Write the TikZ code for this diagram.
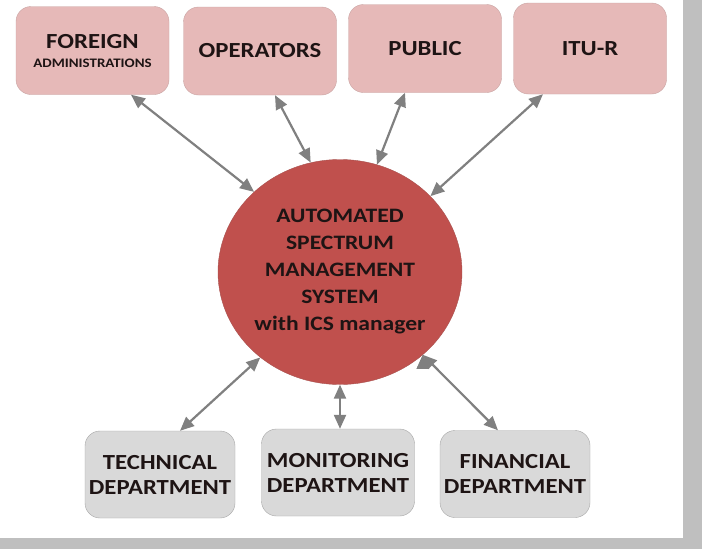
\documentclass[tikz,border=0pt]{standalone}
\usepackage{fontspec}
\setmainfont{Carlito}[FakeStretch=1.15]
\usetikzlibrary{arrows.meta,shapes.geometric}
\definecolor{outerbox}{HTML}{E6B9B8}
\definecolor{outerline}{HTML}{C9A3A2}
\definecolor{asmsred}{HTML}{C0504D}
\definecolor{asmsline}{HTML}{A8514E}
\definecolor{deptbox}{HTML}{D9D9D9}
\definecolor{deptline}{HTML}{A6A6A6}
\definecolor{linkgray}{HTML}{808080}
\definecolor{framegray}{HTML}{BFBFBF}
\definecolor{inkdark}{HTML}{1E1414}

\begin{document}
\begin{tikzpicture}[x=1pt,y=-1pt,
	outer/.style={draw=outerline, fill=outerbox, rounded corners=15pt, minimum width=153pt, minimum height=88pt, inner sep=0pt, align=center, text=inkdark, font=\bfseries\fontsize{21.5}{22}\selectfont},
	dept/.style={draw=deptline, fill=deptbox, rounded corners=15pt, minimum width=150pt, minimum height=87pt, inner sep=0pt, align=center, text=inkdark, font=\bfseries\fontsize{21.5}{25}\selectfont},
	asms/.style={ellipse, draw=asmsline, fill=asmsred, minimum width=244pt, minimum height=225pt, inner sep=0pt, align=center, text=inkdark, font=\bfseries\fontsize{20.5}{27}\selectfont},
	link/.style={draw=linkgray, fill=linkgray, line width=2.2pt, {Triangle[length=14pt,width=12pt]}-{Triangle[length=14pt,width=12pt]}}]
	\fill[framegray] (0,0) rectangle (702,549);
	\fill[white] (0,0) rectangle (683,538);
	\useasboundingbox (0,0) rectangle (702,549);

	\node[outer] (foreign) at (92.5,50.5) {FOREIGN\\[-3pt]{\fontsize{13}{15}\selectfont ADMINISTRATIONS}};
	\node[outer] (operators) at (260,51) {OPERATORS};
	\node[outer] (public) at (425,48.5) {PUBLIC};
	\node[outer, minimum height=91pt] (itur) at (590,48.5) {ITU-R};

	\node[asms] (sys) at (340,272) {AUTOMATED\\SPECTRUM\\MANAGEMENT\\SYSTEM\\with ICS manager};

	\node[dept] (technical) at (160,474.5) {TECHNICAL\\DEPARTMENT};
	\node[dept, minimum width=153pt] (monitoring) at (338,472.5) {MONITORING\\DEPARTMENT};
	\node[dept] (financial) at (515,474) {FINANCIAL\\DEPARTMENT};

	\path[link]
	(sys.137) edge ([xshift=38.5pt]foreign.south)
	(sys.105) edge ([xshift=15pt]operators.south)
	(sys.71) edge ([xshift=-20pt]public.south)
	(sys.40) edge ([xshift=-47pt]itur.south)
	(sys.227) edge ([xshift=20pt]technical.north)
	(sys.south) edge (sys.south |- monitoring.north)
	(sys.315) edge ([xshift=-17pt]financial.north);
\end{tikzpicture}
\end{document}
